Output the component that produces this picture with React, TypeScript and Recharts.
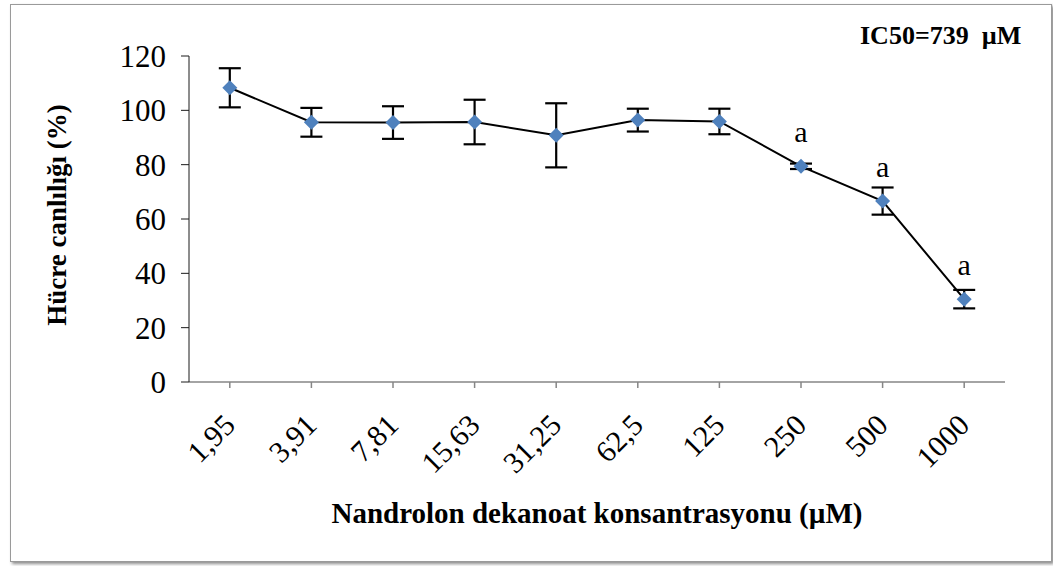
import React from 'react';
import { ComposedChart, Line, XAxis, YAxis, ErrorBar, LabelList, Label } from 'recharts';

const categories = ['1,95', '3,91', '7,81', '15,63', '31,25', '62,5', '125', '250', '500', '1000'];
const viability = [108.3, 95.6, 95.5, 95.7, 90.8, 96.4, 95.9, 79.4, 66.6, 30.5];
const errors = [7.2, 5.3, 6.0, 8.2, 11.8, 4.2, 4.7, 1.0, 5.0, 3.4];
const significance = ['', '', '', '', '', '', '', 'a', 'a', 'a'];
const yTicks = [0, 20, 40, 60, 80, 100, 120];

const data = categories.map((c, i) => ({
  conc: c,
  value: viability[i],
  err: errors[i],
  sig: significance[i],
}));

const FONT = '"Liberation Serif", "Times New Roman", serif';

const Diamond = (props: any) => {
  const { cx, cy } = props;
  if (cx == null || cy == null) return null;
  const r = 7.5;
  return (
    <polygon
      points={`${cx},${cy - r} ${cx + r},${cy} ${cx},${cy + r} ${cx - r},${cy}`}
      fill="#4F81BD"
    />
  );
};

const XTick = (props: any) => {
  const { x, y, payload } = props;
  const tx = x + 7;
  const ty = y + 39;
  return (
    <text
      x={tx}
      y={ty}
      transform={`rotate(-45, ${tx}, ${ty})`}
      textAnchor="end"
      fontFamily={FONT}
      fontSize={30}
      fill="#000"
    >
      {payload.value}
    </text>
  );
};

export default function App() {
  return (
    <div style={{ position: 'fixed', left: 0, top: 0, width: 1053, height: 566, background: '#fff' }}>
      <div
        style={{
          position: 'absolute',
          left: 10,
          top: 4,
          width: 1040,
          height: 556,
          border: '1px solid #9a9a9a',
          boxShadow: '2px 2px 3px rgba(0,0,0,0.45)',
          background: '#fff',
        }}
      />
      <div
        style={{
          position: 'absolute',
          left: 860,
          top: 21,
          fontFamily: FONT,
          fontWeight: 'bold',
          fontSize: 26,
          lineHeight: '30px',
          whiteSpace: 'pre',
          color: '#000',
        }}
      >
        IC50=739  µM
      </div>
      <div style={{ position: 'absolute', left: 0, top: 0 }}>
        <ComposedChart
          width={1053}
          height={566}
          data={data}
          margin={{ top: 56, right: 48, left: 0, bottom: 0 }}
        >
          <XAxis
            dataKey="conc"
            scale="band"
            height={184}
            stroke="#868686"
            strokeWidth={1.5}
            tickSize={6}
            tickMargin={0}
            interval={0}
            tick={<XTick />}
          >
            <Label
              content={(p: any) => {
                const vb = p.viewBox;
                return (
                  <text
                    x={vb.x + vb.width / 2}
                    y={523}
                    textAnchor="middle"
                    fontFamily={FONT}
                    fontWeight="bold"
                    fontSize={29}
                    fill="#000"
                  >
                    Nandrolon dekanoat konsantrasyonu (µM)
                  </text>
                );
              }}
            />
          </XAxis>
          <YAxis
            width={189}
            domain={[0, 120]}
            ticks={yTicks}
            interval={0}
            stroke="#1a1a1a"
            tickSize={8}
            tickMargin={15}
            tick={{ fontFamily: FONT, fontSize: 31, fill: '#000' }}
          >
            <Label
              content={(p: any) => {
                const vb = p.viewBox;
                const cx = 66;
                const cy = vb.y + vb.height / 2 - 4;
                return (
                  <text
                    x={cx}
                    y={cy}
                    transform={`rotate(-90, ${cx}, ${cy})`}
                    textAnchor="middle"
                    fontFamily={FONT}
                    fontWeight="bold"
                    fontSize={27}
                    fill="#000"
                  >
                    Hücre canlılığı (%)
                  </text>
                );
              }}
            />
          </YAxis>
          <Line
            dataKey="value"
            stroke="#000"
            strokeWidth={2}
            dot={<Diamond />}
            activeDot={false}
            isAnimationActive={false}
          >
            <ErrorBar dataKey="err" direction="y" width={11} stroke="#000" strokeWidth={2.2} />
            <LabelList
              dataKey="sig"
              content={(p: any) => {
                if (!p.value) return null;
                return (
                  <text
                    x={p.x}
                    y={p.y - 24}
                    textAnchor="middle"
                    fontFamily={FONT}
                    fontSize={30}
                    fill="#000"
                  >
                    {p.value}
                  </text>
                );
              }}
            />
          </Line>
        </ComposedChart>
      </div>
    </div>
  );
}
